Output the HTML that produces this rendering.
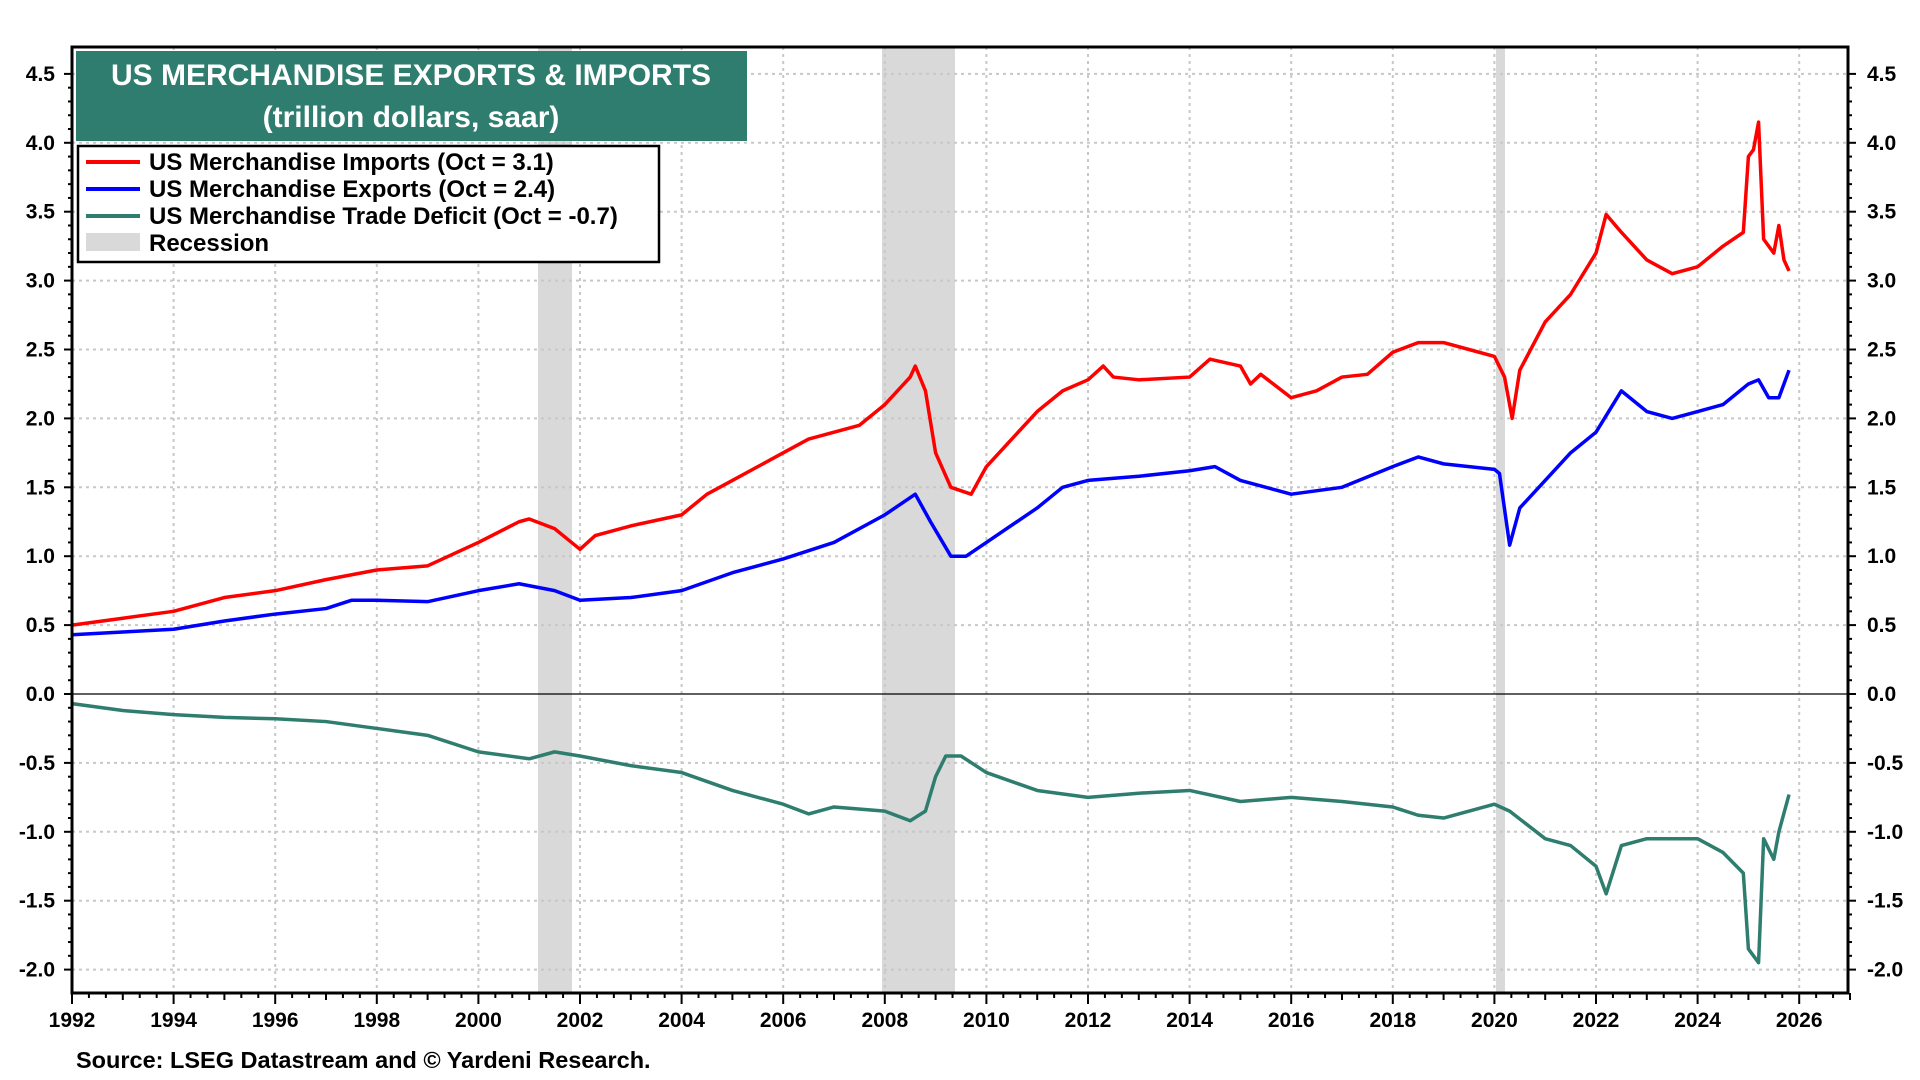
<!DOCTYPE html>
<html><head><meta charset="utf-8"><style>
html,body{margin:0;padding:0;background:#fff;width:1920px;height:1080px;overflow:hidden}
svg{display:block;font-family:"Liberation Sans",Arial,sans-serif;font-weight:bold}
</style></head><body>
<svg id="s" width="1920" height="1080" viewBox="0 0 1920 1080" xmlns="http://www.w3.org/2000/svg">
<rect x="0" y="0" width="1920" height="1080" fill="#fff"/>
<g id="rec" fill="#d9d9d9">
<rect x="538" y="47" width="34" height="946"/>
<rect x="882" y="47" width="73" height="946"/>
<rect x="1496" y="47" width="9" height="946"/>
</g>
<g id="grid" stroke="#c8c8c8" stroke-width="2" stroke-dasharray="3,4"></g>
<line x1="72" y1="694" x2="1848" y2="694" stroke="#000" stroke-width="1.2"/>
<g id="ticks" stroke="#000" stroke-width="2"></g>
<g id="labels" font-size="21" fill="#000"></g>
<g transform="translate(-101121.6,694) scale(50.8,-137.8)" fill="none" stroke-linejoin="round">
<polyline id="imp" stroke="#ff0000" stroke-width="3.5" vector-effect="non-scaling-stroke" points="1992,0.5 1993,0.55 1994,0.6 1995,0.7 1996,0.75 1997,0.83 1998,0.9 1999,0.93 2000,1.1 2000.8,1.25 2001,1.27 2001.5,1.2 2001.9,1.08 2002,1.05 2002.3,1.15 2003,1.22 2004,1.3 2004.5,1.45 2005,1.55 2006,1.75 2006.5,1.85 2007,1.9 2007.5,1.95 2008,2.1 2008.5,2.3 2008.6,2.38 2008.8,2.2 2009,1.75 2009.3,1.5 2009.7,1.45 2010,1.65 2010.5,1.85 2011,2.05 2011.5,2.2 2012,2.28 2012.3,2.38 2012.5,2.3 2013,2.28 2014,2.3 2014.4,2.43 2015,2.38 2015.2,2.25 2015.4,2.32 2016,2.15 2016.5,2.2 2017,2.3 2017.5,2.32 2018,2.48 2018.5,2.55 2019,2.55 2019.5,2.5 2020,2.45 2020.2,2.3 2020.35,2.0 2020.5,2.35 2021,2.7 2021.5,2.9 2022,3.2 2022.2,3.48 2022.5,3.35 2023,3.15 2023.5,3.05 2024,3.1 2024.5,3.25 2024.9,3.35 2025.0,3.9 2025.1,3.95 2025.2,4.15 2025.3,3.3 2025.5,3.2 2025.6,3.4 2025.7,3.15 2025.8,3.07"/>
<polyline id="exp" stroke="#0000ff" stroke-width="3.5" vector-effect="non-scaling-stroke" points="1992,0.43 1993,0.45 1994,0.47 1995,0.53 1996,0.58 1997,0.62 1997.5,0.68 1998,0.68 1999,0.67 2000,0.75 2000.8,0.8 2001.5,0.75 2002,0.68 2003,0.7 2004,0.75 2005,0.88 2006,0.98 2007,1.1 2008,1.3 2008.6,1.45 2008.9,1.25 2009.3,1.0 2009.6,1.0 2010,1.1 2011,1.35 2011.5,1.5 2012,1.55 2013,1.58 2014,1.62 2014.5,1.65 2015,1.55 2016,1.45 2017,1.5 2018,1.65 2018.5,1.72 2019,1.67 2020,1.63 2020.1,1.6 2020.3,1.08 2020.5,1.35 2021,1.55 2021.5,1.75 2022,1.9 2022.5,2.2 2023,2.05 2023.5,2.0 2024,2.05 2024.5,2.1 2025,2.25 2025.2,2.28 2025.4,2.15 2025.6,2.15 2025.8,2.35"/>
<polyline id="def" stroke="#2e7d6e" stroke-width="3.5" vector-effect="non-scaling-stroke" points="1992,-0.07 1993,-0.12 1994,-0.15 1995,-0.17 1996,-0.18 1997,-0.2 1998,-0.25 1999,-0.3 2000,-0.42 2001,-0.47 2001.5,-0.42 2002,-0.45 2003,-0.52 2004,-0.57 2005,-0.7 2006,-0.8 2006.5,-0.87 2007,-0.82 2008,-0.85 2008.5,-0.92 2008.8,-0.85 2009,-0.6 2009.2,-0.45 2009.5,-0.45 2010,-0.57 2011,-0.7 2012,-0.75 2013,-0.72 2014,-0.7 2015,-0.78 2016,-0.75 2017,-0.78 2018,-0.82 2018.5,-0.88 2019,-0.9 2020,-0.8 2020.3,-0.85 2021,-1.05 2021.5,-1.1 2022,-1.25 2022.2,-1.45 2022.5,-1.1 2023,-1.05 2024,-1.05 2024.5,-1.15 2024.9,-1.3 2025.0,-1.85 2025.2,-1.95 2025.3,-1.05 2025.5,-1.2 2025.6,-1.0 2025.8,-0.73"/>
</g>
<rect x="72" y="47" width="1776" height="946" fill="none" stroke="#000" stroke-width="3"/>
<rect x="76" y="51" width="671" height="90" fill="#2e7d6e"/>
<text x="411" y="85" font-size="30" fill="#fff" text-anchor="middle">US MERCHANDISE EXPORTS &amp; IMPORTS</text>
<text x="411" y="127" font-size="30" fill="#fff" text-anchor="middle">(trillion dollars, saar)</text>
<rect x="78" y="146" width="581" height="116" fill="#fff" stroke="#000" stroke-width="2.5"/>
<g font-size="24" fill="#000">
<line x1="86" y1="162" x2="140" y2="162" stroke="#ff0000" stroke-width="4"/>
<text x="149" y="170">US Merchandise Imports (Oct = 3.1)</text>
<line x1="86" y1="189" x2="140" y2="189" stroke="#0000ff" stroke-width="4"/>
<text x="149" y="197">US Merchandise Exports (Oct = 2.4)</text>
<line x1="86" y1="216" x2="140" y2="216" stroke="#2e7d6e" stroke-width="4"/>
<text x="149" y="224">US Merchandise Trade Deficit (Oct = -0.7)</text>
<rect x="86" y="233" width="54" height="18" fill="#d9d9d9"/>
<text x="149" y="251">Recession</text>
</g>
<text x="76" y="1068" font-size="23.5" fill="#000">Source: LSEG Datastream and © Yardeni Research.</text>
</svg>
<script>
var ns="http://www.w3.org/2000/svg";
function el(p,t,a,txt){var e=document.createElementNS(ns,t);for(var k in a)e.setAttribute(k,a[k]);if(txt!=null)e.textContent=txt;document.getElementById(p).appendChild(e);}
function X(t){return 72+(t-1992)*50.8}
function Y(v){return 694-v*137.8}
for(var i=-4;i<=9;i++){var v=i*0.5,y=Y(v);
 if(i!=0)el("grid","line",{x1:72,x2:1848,y1:y,y2:y});
 el("ticks","line",{x1:64,x2:72,y1:y,y2:y});el("ticks","line",{x1:1848,x2:1856,y1:y,y2:y});
 var s=v.toFixed(1);
 el("labels","text",{x:55,y:y+7,"text-anchor":"end"},s);
 el("labels","text",{x:1867,y:y+7},s);
 for(var j=1;j<5&&i<9;j++){var yy=Y(v+j*0.1);el("ticks","line",{x1:68,x2:72,y1:yy,y2:yy});el("ticks","line",{x1:1848,x2:1852,y1:yy,y2:yy});}
}
for(var t=1992;t<=2027;t++){var x=X(t);
 if(t%2==0){if(t>1992&&t<2027)el("grid","line",{x1:x,x2:x,y1:47,y2:993});
  el("ticks","line",{x1:x,x2:x,y1:993,y2:1004});
  el("labels","text",{x:x,y:1027,"text-anchor":"middle"},String(t));}
 else el("ticks","line",{x1:x,x2:x,y1:993,y2:1000});
 for(var q=1;q<3&&t<2027;q++){var xx=X(t+q/3);el("ticks","line",{x1:xx,x2:xx,y1:993,y2:998});}
}
</script>
</body></html>
